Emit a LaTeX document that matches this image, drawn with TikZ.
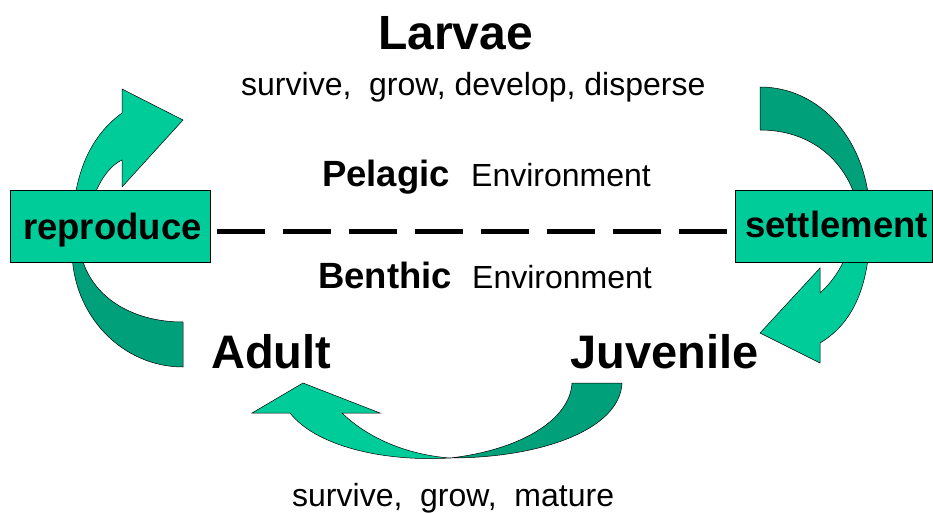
\documentclass[tikz,border=0pt]{standalone}
\usepackage{fontspec}
\setmainfont{Liberation Sans}
\definecolor{seagreen}{RGB}{0,204,153}
\definecolor{deepgreen}{RGB}{0,160,122}
\begin{document}
\begin{tikzpicture}[x=1pt,y=-1pt,
  band/.style={draw=black, line width=0.5pt, line join=miter},
  lightband/.style={band, fill=seagreen},
  darkband/.style={band, fill=deepgreen},
  stagebox/.style={draw=black, line width=0.6pt, fill=seagreen,
    minimum width=#1, minimum height=72pt, inner sep=0pt},
  bigtxt/.style={font=\fontsize{#1}{52}\selectfont\bfseries, anchor=base west, inner sep=0pt},
  boldtxt/.style={font=\fontsize{36.5}{40}\selectfont\bfseries, anchor=base west, inner sep=0pt},
  plaintxt/.style={font=\fontsize{32}{36}\selectfont, anchor=base west, inner sep=0pt},
  dashline/.style={line width=5pt, dash pattern=on 48pt off 18pt}
]
\useasboundingbox (0,0) rectangle (933,513);

% left loop: adult -> reproduce -> larvae
\draw[darkband] (183,367) .. controls (122,367) and (72,315) .. (72,250)
  -- (80,250) .. controls (88,295) and (130,322) .. (183,322) -- cycle;
\draw[lightband] (72,250) .. controls (70,185) and (85,140) .. (122,113)
  -- (122,89) -- (183,120) -- (122,187) -- (122,160)
  .. controls (105,168) and (88,195) .. (84,245) -- cycle;

% right loop: larvae -> settlement -> juvenile
\draw[darkband] (760,87) .. controls (820,87) and (868,140) .. (870,215)
  -- (860,215) .. controls (850,160) and (810,130) .. (760,130) -- cycle;
\draw[lightband] (870,215) .. controls (872,290) and (850,325) .. (820,343)
  -- (820,363) -- (760,333) -- (820,268) -- (820,293)
  .. controls (840,275) and (852,250) .. (856,215) -- cycle;

% bottom loop: juvenile -> adult
\draw[darkband] (450,458) .. controls (520,450) and (570,420) .. (572,383)
  -- (622,383) .. controls (620,430) and (540,458) .. (450,458) -- cycle;
\draw[lightband] (450,458) .. controls (380,462) and (315,445) .. (290,413)
  -- (252,413) -- (303,383) -- (380,413) -- (342,413)
  .. controls (370,440) and (410,455) .. (450,458) -- cycle;

% stage boxes
\node[stagebox=200pt] (rep) at (110,226) {};
\node[stagebox=197pt] (set) at (833.5,226) {};
\node[boldtxt] (reptxt) at (23,239) {reproduce};
\node[boldtxt] (settxt) at (745,237.5) {settlement};

% boundary between the two environments
\draw[dashline, shorten <=6.5pt, shorten >=8pt]
  ([yshift=-5.4pt]rep.east) -- ([yshift=-5.4pt]set.west);

% labels
\node[bigtxt=48] (larvae) at (378,50) {Larvae};
\node[plaintxt] (larvaeact) at (241,96) {survive,\ \ grow, develop, disperse};
\node[boldtxt] (pelagic) at (322,186) {Pelagic};
\node[plaintxt] (pelenv) at (471,186) {Environment};
\node[boldtxt] (benthic) at (318,288.5) {Benthic};
\node[plaintxt] (benenv) at (472,288.5) {Environment};
\node[bigtxt=47] (adult) at (211,368) {Adult};
\node[bigtxt=47] (juvenile) at (570,368) {Juvenile};
\node[plaintxt] (juvact) at (292,506) {survive,\ \ grow,\ \ mature};
\end{tikzpicture}
\end{document}
